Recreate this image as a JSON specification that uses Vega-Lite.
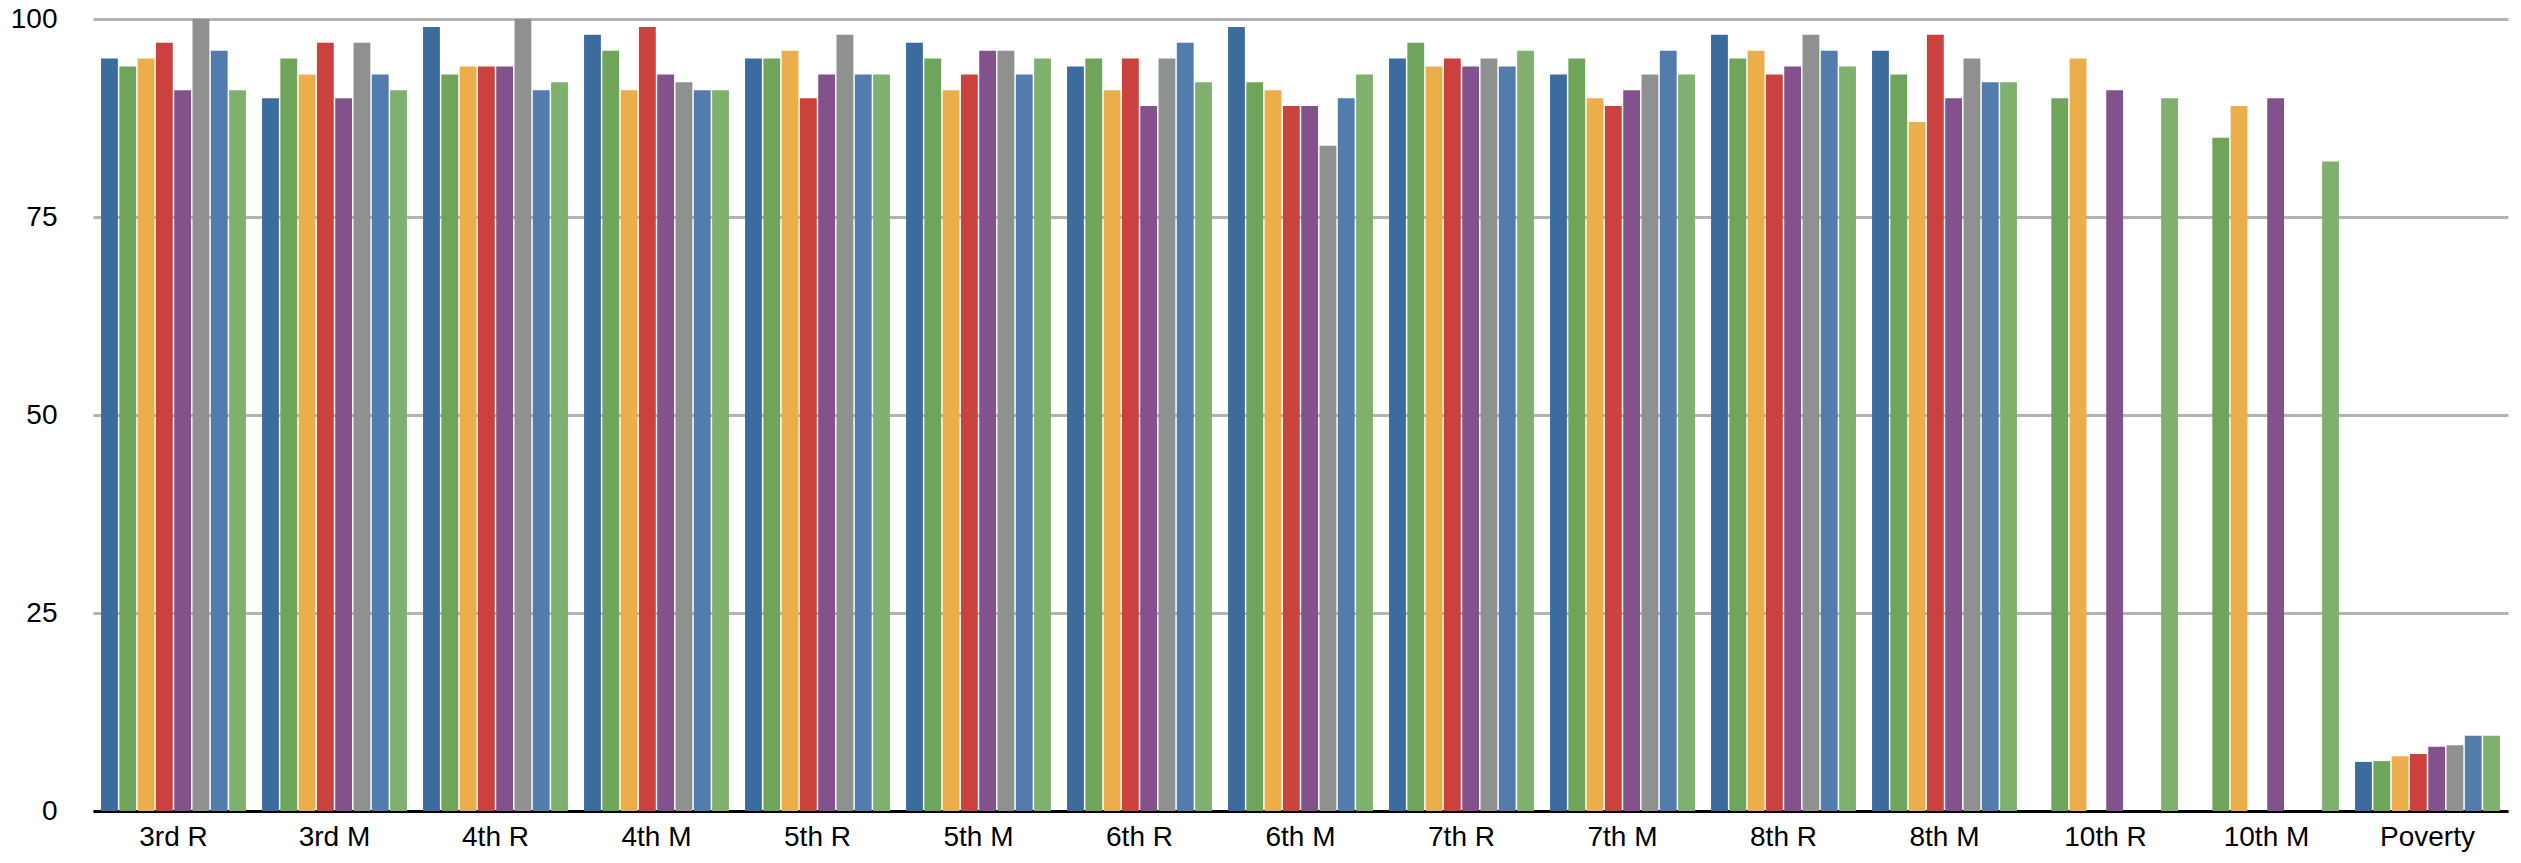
{
  "$schema": "https://vega.github.io/schema/vega-lite/v6.json",
  "autosize": {"type": "none"},
  "padding": {"left": 93, "top": 19, "right": 13, "bottom": 52},
  "width": 2415,
  "height": 792,
  "config": {
    "view": {"stroke": null},
    "font": "Liberation Sans"
  },
  "datasets": {
    "scores": [
      {"g":"3rd R","s":"S1","v":95},{"g":"3rd R","s":"S2","v":94},{"g":"3rd R","s":"S3","v":95},{"g":"3rd R","s":"S4","v":97},{"g":"3rd R","s":"S5","v":91},{"g":"3rd R","s":"S6","v":100},{"g":"3rd R","s":"S7","v":96},{"g":"3rd R","s":"S8","v":91},
      {"g":"3rd M","s":"S1","v":90},{"g":"3rd M","s":"S2","v":95},{"g":"3rd M","s":"S3","v":93},{"g":"3rd M","s":"S4","v":97},{"g":"3rd M","s":"S5","v":90},{"g":"3rd M","s":"S6","v":97},{"g":"3rd M","s":"S7","v":93},{"g":"3rd M","s":"S8","v":91},
      {"g":"4th R","s":"S1","v":99},{"g":"4th R","s":"S2","v":93},{"g":"4th R","s":"S3","v":94},{"g":"4th R","s":"S4","v":94},{"g":"4th R","s":"S5","v":94},{"g":"4th R","s":"S6","v":100},{"g":"4th R","s":"S7","v":91},{"g":"4th R","s":"S8","v":92},
      {"g":"4th M","s":"S1","v":98},{"g":"4th M","s":"S2","v":96},{"g":"4th M","s":"S3","v":91},{"g":"4th M","s":"S4","v":99},{"g":"4th M","s":"S5","v":93},{"g":"4th M","s":"S6","v":92},{"g":"4th M","s":"S7","v":91},{"g":"4th M","s":"S8","v":91},
      {"g":"5th R","s":"S1","v":95},{"g":"5th R","s":"S2","v":95},{"g":"5th R","s":"S3","v":96},{"g":"5th R","s":"S4","v":90},{"g":"5th R","s":"S5","v":93},{"g":"5th R","s":"S6","v":98},{"g":"5th R","s":"S7","v":93},{"g":"5th R","s":"S8","v":93},
      {"g":"5th M","s":"S1","v":97},{"g":"5th M","s":"S2","v":95},{"g":"5th M","s":"S3","v":91},{"g":"5th M","s":"S4","v":93},{"g":"5th M","s":"S5","v":96},{"g":"5th M","s":"S6","v":96},{"g":"5th M","s":"S7","v":93},{"g":"5th M","s":"S8","v":95},
      {"g":"6th R","s":"S1","v":94},{"g":"6th R","s":"S2","v":95},{"g":"6th R","s":"S3","v":91},{"g":"6th R","s":"S4","v":95},{"g":"6th R","s":"S5","v":89},{"g":"6th R","s":"S6","v":95},{"g":"6th R","s":"S7","v":97},{"g":"6th R","s":"S8","v":92},
      {"g":"6th M","s":"S1","v":99},{"g":"6th M","s":"S2","v":92},{"g":"6th M","s":"S3","v":91},{"g":"6th M","s":"S4","v":89},{"g":"6th M","s":"S5","v":89},{"g":"6th M","s":"S6","v":84},{"g":"6th M","s":"S7","v":90},{"g":"6th M","s":"S8","v":93},
      {"g":"7th R","s":"S1","v":95},{"g":"7th R","s":"S2","v":97},{"g":"7th R","s":"S3","v":94},{"g":"7th R","s":"S4","v":95},{"g":"7th R","s":"S5","v":94},{"g":"7th R","s":"S6","v":95},{"g":"7th R","s":"S7","v":94},{"g":"7th R","s":"S8","v":96},
      {"g":"7th M","s":"S1","v":93},{"g":"7th M","s":"S2","v":95},{"g":"7th M","s":"S3","v":90},{"g":"7th M","s":"S4","v":89},{"g":"7th M","s":"S5","v":91},{"g":"7th M","s":"S6","v":93},{"g":"7th M","s":"S7","v":96},{"g":"7th M","s":"S8","v":93},
      {"g":"8th R","s":"S1","v":98},{"g":"8th R","s":"S2","v":95},{"g":"8th R","s":"S3","v":96},{"g":"8th R","s":"S4","v":93},{"g":"8th R","s":"S5","v":94},{"g":"8th R","s":"S6","v":98},{"g":"8th R","s":"S7","v":96},{"g":"8th R","s":"S8","v":94},
      {"g":"8th M","s":"S1","v":96},{"g":"8th M","s":"S2","v":93},{"g":"8th M","s":"S3","v":87},{"g":"8th M","s":"S4","v":98},{"g":"8th M","s":"S5","v":90},{"g":"8th M","s":"S6","v":95},{"g":"8th M","s":"S7","v":92},{"g":"8th M","s":"S8","v":92},
      {"g":"10th R","s":"S2","v":90},{"g":"10th R","s":"S3","v":95},{"g":"10th R","s":"S5","v":91},{"g":"10th R","s":"S8","v":90},
      {"g":"10th M","s":"S2","v":85},{"g":"10th M","s":"S3","v":89},{"g":"10th M","s":"S5","v":90},{"g":"10th M","s":"S8","v":82},
      {"g":"Poverty","s":"S1","v":6.2},{"g":"Poverty","s":"S2","v":6.3},{"g":"Poverty","s":"S3","v":6.9},{"g":"Poverty","s":"S4","v":7.2},{"g":"Poverty","s":"S5","v":8.1},{"g":"Poverty","s":"S6","v":8.3},{"g":"Poverty","s":"S7","v":9.5},{"g":"Poverty","s":"S8","v":9.5}
    ]
  },
  "data": {"name": "scores"},
  "mark": {"type": "bar"},
  "encoding": {
    "x": {
      "field": "g",
      "type": "nominal",
      "sort": null,
      "scale": {"paddingInner": 0.1, "paddingOuter": 0.05},
      "axis": {
        "title": null,
        "labelAngle": 0,
        "labelFontSize": 28,
        "labelColor": "#000000",
        "labelPadding": 12,
        "ticks": false,
        "domainColor": "#000000",
        "domainWidth": 3,
        "grid": false
      }
    },
    "xOffset": {
      "field": "s",
      "type": "nominal",
      "scale": {"domain": ["S1","S2","S3","S4","S5","S6","S7","S8"], "paddingInner": 0.08}
    },
    "y": {
      "field": "v",
      "type": "quantitative",
      "scale": {"domain": [0, 100], "nice": false},
      "axis": {
        "title": null,
        "values": [0, 25, 50, 75, 100],
        "labelFontSize": 28,
        "labelColor": "#000000",
        "labelPadding": 36,
        "ticks": false,
        "domain": false,
        "grid": true,
        "gridColor": "#b3b3b3",
        "gridWidth": 3
      }
    },
    "color": {
      "field": "s",
      "type": "nominal",
      "legend": null,
      "scale": {
        "domain": ["S1","S2","S3","S4","S5","S6","S7","S8"],
        "range": ["#3c6c9e","#6ea55a","#ecae4b","#cb413e","#83528c","#8f9190","#517cab","#80b06e"]
      }
    }
  }
}
